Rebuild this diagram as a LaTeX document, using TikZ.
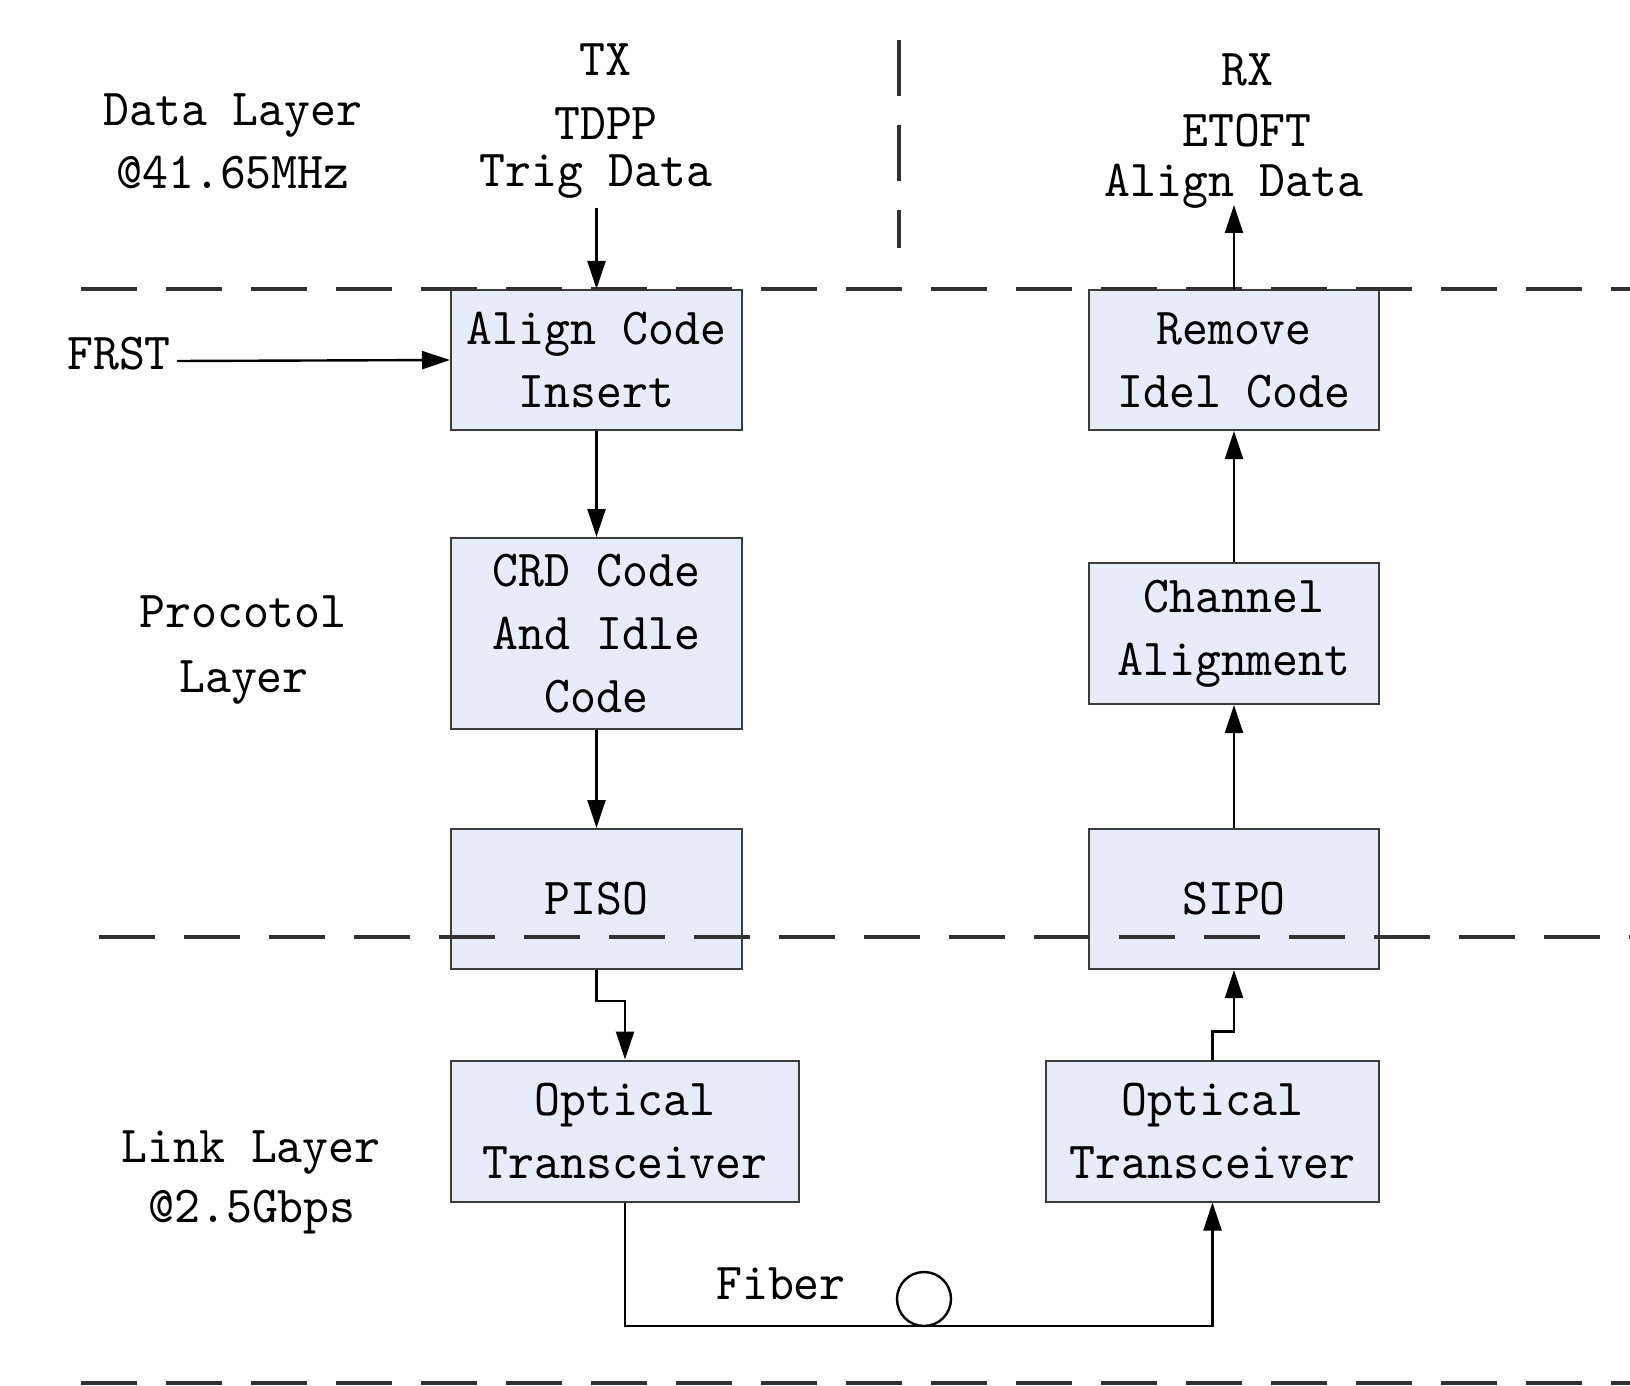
\documentclass[tikz,border=0pt]{standalone}
\usepackage{fontspec}
\newfontfamily\simsun{lmmono10-regular}[Extension=.otf, FakeStretch=0.95]
\usetikzlibrary{arrows.meta}
\definecolor{boxfill}{RGB}{230,236,248}
\definecolor{boxline}{RGB}{60,60,60}
\definecolor{dashcol}{RGB}{50,50,50}
\tikzset{
  blk/.style={draw=boxline, line width=1pt, fill=boxfill, inner sep=0pt, align=center},
  lbl/.style={inner sep=0pt, anchor=base},
  arr/.style={line width=1.2pt, -{Triangle[length=14pt,width=9pt]}},
  layerline/.style={dashcol, line width=1.7pt, dash pattern=on 28pt off 14.5pt},
}
\begin{document}
\begin{tikzpicture}[x=0.5pt, y=-0.5pt, font=\simsun\fontsize{26}{31.5}\selectfont]
\useasboundingbox (0,0) rectangle (1630,1386);

% boxes
\node[blk, minimum width=145.5pt, minimum height=70pt] (align) at (596.5,360) {Align Code\\Insert};
\node[blk, minimum width=145.5pt, minimum height=95.5pt] (crd) at (596.5,633.5) {CRD Code\\And Idle\\Code};
\node[blk, minimum width=145.5pt, minimum height=70pt] (piso) at (596.5,899) {PISO};
\node[blk, minimum width=174pt, minimum height=70.5pt] (optl) at (625,1131) {Optical\\Transceiver};
\node[blk, minimum width=145pt, minimum height=70pt] (remove) at (1234,360) {Remove\\Idel Code};
\node[blk, minimum width=145pt, minimum height=70.5pt] (chan) at (1234,633.5) {Channel\\Alignment};
\node[blk, minimum width=145pt, minimum height=70pt] (sipo) at (1234,899) {SIPO};
\node[blk, minimum width=166.5pt, minimum height=70.5pt] (optr) at (1212.5,1131) {Optical\\Transceiver};

% layer separators (drawn over the boxes)
\draw[layerline] (81,289) -- (1630,289);
\draw[layerline] (99,937) -- (1630,937);
\draw[layerline] (81,1383) -- (1630,1383);
\draw[layerline] (899,40) -- (899,248);

% labels
\node[lbl] (dl1) at (233,126) {Data Layer};
\node[lbl] (dl2) at (233,189) {@41.65MHz};
\node[lbl] (tx1) at (605,76) {TX};
\node[lbl] (tx2) at (606,140) {TDPP};
\node[lbl] (tx3) at (596,187) {Trig Data};
\node[lbl] (rx1) at (1247,86) {RX};
\node[lbl] (rx2) at (1247,147) {ETOFT};
\node[lbl] (rx3) at (1234,197) {Align Data};
\node[lbl] (frst) at (119,369) {FRST};
\node[lbl] (pl1) at (243,627) {Procotol};
\node[lbl] (pl2) at (244,692) {Layer};
\node[lbl] (ll1) at (251,1162) {Link Layer};
\node[lbl] (ll2) at (252,1222) {@2.5Gbps};
\node[lbl] (fiber) at (781,1299) {Fiber};

% connector end points
\coordinate (txin) at (596.5,208);
\coordinate (rxout) at (1234,205);
\coordinate (frstout) at (177,361);
\coordinate (fb) at (924,1326);

% connectors
\draw[arr] (txin) -- (align.north);
\draw[arr] (frstout) -- (align.west);
\draw[arr] (align.south) -- (crd.north);
\draw[arr] (crd.south) -- (piso.north);
\draw[arr] (piso.south) -- ++(0,31) -| (optl.north);
\draw[arr] (optl.south) |- (fb) -| (optr.south);
\draw[arr] (optr.north) -- ++(0,-28) -| (sipo.south);
\draw[arr] (sipo.north) -- (chan.south);
\draw[arr] (chan.north) -- (remove.south);
\draw[arr] (remove.north) -- (rxout);

% fiber loop
\node[draw, circle, line width=1.2pt, minimum size=27pt, inner sep=0pt] (loop) at (924,1299) {};
\end{tikzpicture}
\end{document}
